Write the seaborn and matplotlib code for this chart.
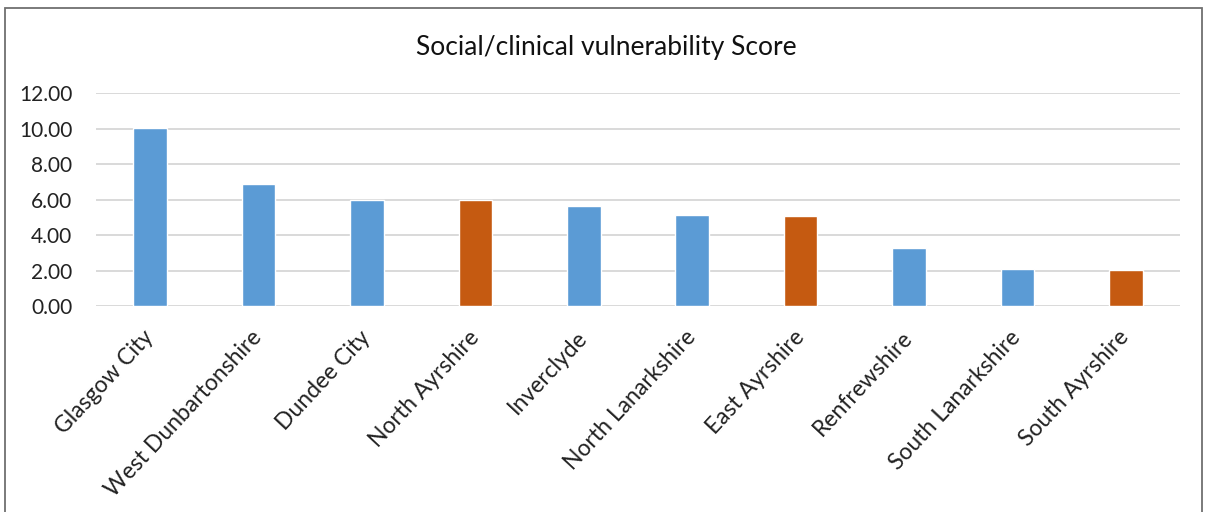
import matplotlib
matplotlib.use("Agg")
import matplotlib.pyplot as plt
import seaborn as sns
import pandas as pd
from matplotlib.patches import Rectangle

# Council areas and their social/clinical vulnerability scores
areas = ["Glasgow City", "West Dunbartonshire", "Dundee City", "North Ayrshire",
         "Inverclyde", "North Lanarkshire", "East Ayrshire", "Renfrewshire",
         "South Lanarkshire", "South Ayrshire"]
scores = [10.02, 6.86, 6.0, 6.0, 5.63, 5.12, 5.07, 3.25, 2.07, 2.03]
groups = ["other", "other", "other", "ayrshire", "other",
          "other", "ayrshire", "other", "other", "ayrshire"]

palette = {"other": "#5B9BD5", "ayrshire": "#C55A11"}

df = pd.DataFrame({"area": areas, "score": scores, "group": groups})

sns.set_theme(style="white")
plt.rcParams["font.family"] = ["Lato", "DejaVu Sans"]

fig = plt.figure(figsize=(12.05, 5.12), dpi=100)
ax = fig.add_axes([0.0797, 0.402, 0.8995, 0.416])

sns.barplot(data=df, x="area", y="score", hue="group", palette=palette,
            dodge=False, width=0.31, legend=False, ax=ax, saturation=1)

ax.set_ylim(0, 12)
ax.set_xlim(-0.5, len(areas) - 0.5)
ax.set_yticks(range(0, 13, 2))
ax.set_yticklabels([f"{v:.2f}" for v in range(0, 13, 2)], fontsize=15, color="#222222")
ax.set_xticks(range(len(areas)))
ax.set_xticklabels(areas, rotation=47, ha="right", va="center",
                   rotation_mode="anchor", fontsize=16.5, color="#222222")
ax.tick_params(axis="x", pad=20, length=0)
ax.tick_params(axis="y", pad=17, length=0)
ax.set_xlabel("")
ax.set_ylabel("")

ax.yaxis.grid(True, color="#D9D9D9", linewidth=1.4)
ax.set_axisbelow(True)
for s in ax.spines.values():
    s.set_visible(False)

fig.text(0.503, 0.908, "Social/clinical vulnerability Score", ha="center",
         va="center", fontsize=19, color="#111111")

# outer chart frame
fig.patches.append(Rectangle((5 / 1205, -0.05), 1197 / 1205, 1.05 - 8 / 512,
                             transform=fig.transFigure, fill=False,
                             edgecolor="#707070", linewidth=1.3))

fig.savefig("out.png", dpi=100)
